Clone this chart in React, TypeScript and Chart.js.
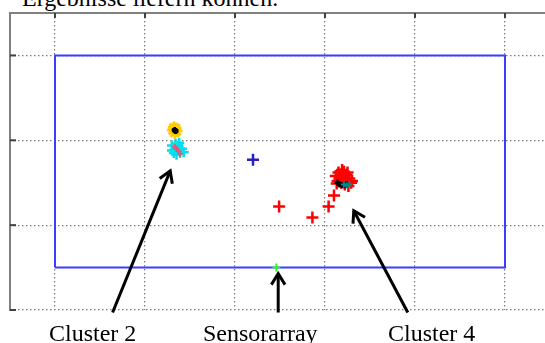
import React, { useEffect, useRef } from "react";
import { Chart, registerables } from "chart.js";

Chart.register(...registerables);

// ---- text ----
const headline = "Ergebnisse liefern können.";
const labelTexts = ["Cluster 2", "Sensorarray", "Cluster 4"];

// ---- axes ----
const xMin = -0.5;
const xMax = 5.5;
const yMin = 0;
const yMax = 3.5;
const xTickValues = [0, 1, 2, 3, 4, 5];
const yTickValues = [0, 1, 2, 3];

// ---- room outline (blue rectangle) ----
const roomX = [0, 0, 5, 5, 0];
const roomY = [0.5, 3, 3, 0.5, 0.5];

// ---- cluster 2 ----
const yellowX = [1.31, 1.34, 1.33, 1.35, 1.32, 1.33];
const yellowY = [2.12, 2.14, 2.09, 2.11, 2.15, 2.12];
const yellowCoreX = [1.33, 1.34];
const yellowCoreY = [2.12, 2.11];
const cyanX = [1.3, 1.34, 1.37, 1.33, 1.36, 1.41, 1.39, 1.35, 1.43, 1.3, 1.32, 1.38];
const cyanY = [1.94, 1.96, 1.93, 1.89, 1.88, 1.9, 1.85, 1.83, 1.86, 1.88, 1.85, 1.97];
const cyanRedX = [1.35, 1.37, 1.33, 1.39];
const cyanRedY = [1.9, 1.87, 1.92, 1.84];

// ---- single markers ----
const blueX = [2.2];
const blueY = [1.77];
const sensorX = [2.46];
const sensorY = [0.5];

// ---- cluster 4 ----
const redX = [2.49, 2.86, 3.04, 3.1, 3.12, 3.15, 3.18, 3.21, 3.24, 3.16, 3.2, 3.23, 3.27, 3.29, 3.14, 3.18, 3.22, 3.26, 3.3, 3.19, 3.25, 3.13];
const redY = [1.22, 1.09, 1.22, 1.35, 1.58, 1.62, 1.6, 1.63, 1.59, 1.55, 1.56, 1.53, 1.55, 1.5, 1.52, 1.5, 1.48, 1.46, 1.52, 1.65, 1.62, 1.49];
const blackX = [3.14, 3.16, 3.19, 3.22, 3.24];
const blackY = [1.5, 1.48, 1.47, 1.47, 1.48];
const tealX = [3.21, 3.24, 3.27];
const tealY = [1.48, 1.47, 1.48];

// ---- annotation arrows (tail -> head) ----
const arrowTailX = [0.64, 2.48, 3.92];
const arrowTailY = [-0.03, -0.03, -0.03];
const arrowHeadX = [1.28, 2.48, 3.32];
const arrowHeadY = [1.64, 0.43, 1.17];

const pts = (xs: number[], ys: number[]) => xs.map((x, i) => ({ x, y: ys[i] }));

const frameAndArrows = {
  id: "frameAndArrows",
  afterDatasetsDraw(chart: any) {
    const { ctx, chartArea, scales } = chart;
    const xs = scales.x;
    const ys = scales.y;
    ctx.save();
    ctx.strokeStyle = "#808080";
    ctx.lineWidth = 2;
    ctx.setLineDash([]);
    ctx.beginPath();
    ctx.moveTo(chartArea.left, chartArea.bottom + 1);
    ctx.lineTo(chartArea.left, chartArea.top);
    ctx.lineTo(chart.width, chartArea.top);
    ctx.stroke();
    ctx.strokeStyle = "#404040";
    ctx.lineWidth = 2;
    xTickValues.forEach((v) => {
      const px = xs.getPixelForValue(v);
      ctx.beginPath();
      ctx.moveTo(px, chartArea.top);
      ctx.lineTo(px, chartArea.top + 5);
      ctx.stroke();
    });
    yTickValues.forEach((v) => {
      const py = ys.getPixelForValue(v);
      ctx.beginPath();
      ctx.moveTo(chartArea.left, py);
      ctx.lineTo(chartArea.left + 6, py);
      ctx.stroke();
    });
    ctx.strokeStyle = "#000";
    ctx.lineWidth = 3;
    ctx.lineCap = "butt";
    arrowTailX.forEach((tx, i) => {
      const x0 = xs.getPixelForValue(tx);
      const y0 = ys.getPixelForValue(arrowTailY[i]);
      const x1 = xs.getPixelForValue(arrowHeadX[i]);
      const y1 = ys.getPixelForValue(arrowHeadY[i]);
      const ang = Math.atan2(y1 - y0, x1 - x0);
      const len = 13;
      const spread = 0.55;
      ctx.beginPath();
      ctx.moveTo(x0, y0);
      ctx.lineTo(x1, y1);
      ctx.stroke();
      ctx.beginPath();
      ctx.moveTo(x1 - len * Math.cos(ang - spread), y1 - len * Math.sin(ang - spread));
      ctx.lineTo(x1, y1);
      ctx.lineTo(x1 - len * Math.cos(ang + spread), y1 - len * Math.sin(ang + spread));
      ctx.stroke();
    });
    ctx.restore();
  },
};

export default function App() {
  const canvasRef = useRef<HTMLCanvasElement | null>(null);

  useEffect(() => {
    if (!canvasRef.current) return;
    const cross = (data: any[], color: string, r: number, w: number, style: any = "cross") => ({
      data,
      pointStyle: style,
      pointRadius: r,
      pointBorderWidth: w,
      borderColor: color,
      backgroundColor: color,
      showLine: false,
    });
    const chart = new Chart(canvasRef.current, {
      type: "scatter",
      data: {
        datasets: [
          cross(pts(sensorX, sensorY), "#33ee33", 4, 2),
          cross(pts(tealX, tealY), "#008b8b", 3, 2),
          cross(pts(blackX, blackY), "#000000", 3, 2.5),
          cross(pts(redX, redY), "#ff0000", 6, 2.5),
          cross(pts(blueX, blueY), "#2a1fc4", 6, 2.5),
          cross(pts(yellowCoreX, yellowCoreY), "#000000", 3, 2.5, "star"),
          cross(pts(yellowX, yellowY), "#ffcc00", 6, 2.5, "star"),
          cross(pts(cyanRedX, cyanRedY), "#d85a78", 3, 1.5),
          cross(pts(cyanX, cyanY), "#00e0f0", 5, 2.5),
          {
            data: pts(roomX, roomY),
            showLine: true,
            borderColor: "#3c3cff",
            borderWidth: 2,
            pointRadius: 0,
            fill: false,
          },
        ] as any,
      },
      options: {
        animation: false,
        responsive: false,
        maintainAspectRatio: false,
        layout: { padding: { left: 10, top: 13, right: 10, bottom: 33 } },
        plugins: { legend: { display: false }, tooltip: { enabled: false } },
        scales: {
          x: {
            type: "linear",
            min: xMin,
            max: xMax,
            ticks: { display: false },
            afterBuildTicks: (s: any) => {
              s.ticks = xTickValues.map((v) => ({ value: v }));
            },
            grid: { color: "#7a7a7a", lineWidth: 1.2, drawTicks: false },
            border: { display: false, dash: [1.5, 2.5] },
            afterFit: (s: any) => {
              s.height = 0;
            },
          },
          y: {
            type: "linear",
            min: yMin,
            max: yMax,
            ticks: { display: false },
            afterBuildTicks: (s: any) => {
              s.ticks = yTickValues.map((v) => ({ value: v }));
            },
            grid: { color: "#7a7a7a", lineWidth: 1.2, drawTicks: false },
            border: { display: false, dash: [1.5, 2.5] },
            afterFit: (s: any) => {
              s.width = 0;
            },
          },
        },
      } as any,
      plugins: [frameAndArrows],
    });
    return () => chart.destroy();
  }, []);

  const textStyle: React.CSSProperties = {
    position: "absolute",
    fontFamily: "'Liberation Serif', 'Times New Roman', serif",
    fontSize: 24,
    lineHeight: "24px",
    whiteSpace: "nowrap",
    color: "#000",
  };
  const labelLefts = [49, 203, 388];

  return (
    <div
      style={{
        position: "fixed",
        left: 0,
        top: 0,
        width: 545,
        height: 343,
        overflow: "hidden",
        background: "#fff",
      }}
    >
      <div style={{ ...textStyle, left: 22, top: -14 }}>{headline}</div>
      <canvas
        ref={canvasRef}
        width={560}
        height={343}
        style={{ position: "absolute", left: 0, top: 0, width: 560, height: 343 }}
      />
      {labelTexts.map((t, i) => (
        <div key={t} style={{ ...textStyle, left: labelLefts[i], top: 321 }}>
          {t}
        </div>
      ))}
    </div>
  );
}
